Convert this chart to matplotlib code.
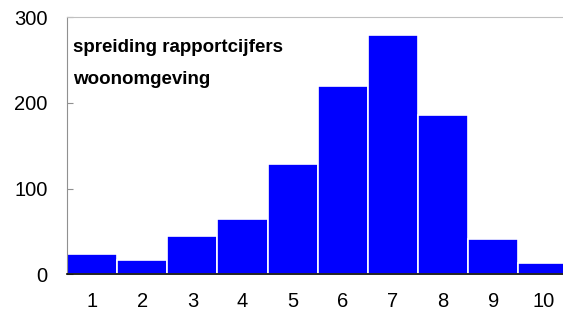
import matplotlib
matplotlib.use("Agg")
import matplotlib.pyplot as plt

plt.rcParams['font.family'] = ['Liberation Sans', 'DejaVu Sans']

cijfers = [1, 2, 3, 4, 5, 6, 7, 8, 9, 10]
aantal = [24, 17, 45, 64, 129, 219, 279, 186, 41, 13]
y_ticks = [0, 100, 200, 300]
titel = "spreiding rapportcijfers\nwoonomgeving"

fig = plt.figure(figsize=(5.63, 3.18), dpi=100)
ax = fig.add_axes([67 / 563, 1 - 274.3 / 318, 1 - 67 / 563, 257.3 / 318])

ax.bar(cijfers, aantal, width=1.0, color="#0000ff", edgecolor="white", linewidth=1.2)

ax.set_xlim(0.5, 10.39)
ax.set_ylim(0, 300)
ax.set_yticks(y_ticks)
ax.set_xticks(cijfers)

ax.spines['right'].set_visible(False)
ax.spines['top'].set_color("#c0c0c0")
ax.spines['left'].set_color("#909090")
ax.spines['bottom'].set_color("black")
ax.spines['bottom'].set_linewidth(1.2)

ax.tick_params(axis='y', direction='in', length=4, color="#909090", labelsize=14.5, pad=14)
ax.tick_params(axis='x', length=0, labelsize=14.5, pad=13)

ax.text(0.012, 0.913, titel, transform=ax.transAxes, fontsize=13.5, fontweight='bold',
        va='top', ha='left', linespacing=2.15)

fig.savefig("out.png", dpi=100)
